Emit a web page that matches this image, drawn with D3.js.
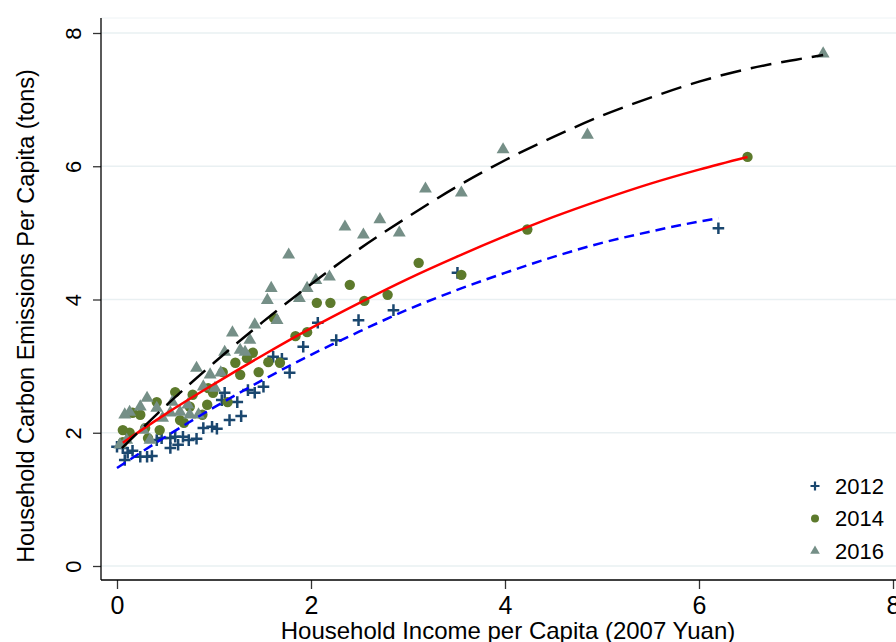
<!DOCTYPE html>
<html>
<head>
<meta charset="utf-8">
<script src="https://cdn.jsdelivr.net/npm/d3@7"></script>
<style>
  body { margin: 0; background: #fff; }
  svg { display: block; }
</style>
</head>
<body>
<svg id="chart" width="896" height="642"></svg>
<script>
// tick values on both axes
var xTicks = [0, 2, 4, 6, 8];
var yTicks = [0, 2, 4, 6, 8];
var years = ['2012', '2014', '2016'];

// scatter points [income, emissions]
var pts2012 = [
    [6.20, 5.07], [3.51, 4.40], [2.85, 3.84], [2.49, 3.69], [2.26, 3.39], [2.07, 3.65],
    [1.92, 3.29], [1.78, 2.90], [1.61, 3.14], [1.70, 3.11], [1.51, 2.69], [1.42, 2.60],
    [1.35, 2.64], [1.28, 2.25], [1.24, 2.46], [1.16, 2.19], [1.11, 2.60], [1.08, 2.49],
    [1.03, 2.06], [0.98, 2.09], [0.89, 2.07], [0.82, 1.91], [0.74, 1.89], [0.68, 1.94],
    [0.63, 1.82], [0.60, 1.94], [0.55, 1.92], [0.55, 1.77], [0.46, 1.92], [0.41, 1.89],
    [0.36, 1.65], [0.31, 1.64], [0.24, 1.64], [0.16, 1.73], [0.11, 1.70], [0.06, 1.77],
    [0.00, 1.79], [0.08, 1.59]
];
var pts2014 = [
    [6.50, 6.14], [4.23, 5.05], [3.55, 4.37], [3.11, 4.55], [2.79, 4.07], [2.55, 3.98],
    [2.40, 4.22], [2.20, 3.95], [2.06, 3.95], [1.96, 3.51], [1.84, 3.45], [1.62, 3.72],
    [1.68, 3.05], [1.56, 3.06], [1.46, 2.91], [1.40, 3.20], [1.34, 3.12], [1.22, 3.05],
    [1.27, 2.87], [1.09, 2.91], [1.14, 2.46], [0.99, 2.60], [0.94, 2.67], [0.88, 2.27],
    [0.78, 2.57], [0.75, 2.39], [0.69, 2.15], [0.60, 2.61], [0.44, 2.04], [0.41, 2.46],
    [0.24, 2.27], [0.16, 2.30], [0.13, 2.00], [0.06, 2.04], [0.06, 1.86], [0.32, 1.92],
    [0.65, 2.19], [0.93, 2.42], [0.29, 2.07]
];
var pts2016 = [
    [7.28, 7.69], [4.85, 6.47], [3.98, 6.25], [3.18, 5.66], [3.55, 5.60], [2.35, 5.09],
    [2.54, 4.97], [2.71, 5.20], [2.91, 5.00], [1.77, 4.67], [2.19, 4.34], [2.05, 4.29],
    [1.96, 4.17], [1.88, 4.02], [1.59, 4.17], [1.55, 3.99], [1.65, 3.69], [1.42, 3.62],
    [1.37, 3.39], [1.19, 3.50], [1.27, 3.24], [1.32, 3.21], [1.11, 3.21], [0.82, 2.97],
    [0.96, 2.87], [1.07, 2.90], [1.01, 2.67], [0.89, 2.69], [0.73, 2.42], [0.65, 2.31],
    [0.75, 2.27], [0.57, 2.46], [0.47, 2.22], [0.41, 2.37], [0.31, 2.52], [0.24, 2.39],
    [0.13, 2.31], [0.08, 2.27], [0.55, 2.30], [0.84, 2.27], [0.27, 2.04], [0.34, 1.89],
    [0.10, 1.89], [0.03, 1.82]
];

// fitted curves, sampled along each line in the picture
var fit2012 = [
    [0.0, 1.47], [0.5, 1.94], [1.0, 2.38], [1.5, 2.79], [2.0, 3.17], [2.5, 3.52], [3.0, 3.85],
    [3.5, 4.14], [4.0, 4.40], [4.5, 4.64], [5.0, 4.85], [5.5, 5.02], [6.0, 5.17], [6.2, 5.22]
];
var fit2014 = [
    [0.06, 1.85], [0.5, 2.28], [1.0, 2.73], [1.5, 3.16], [2.0, 3.57], [2.5, 3.95], [3.0, 4.31],
    [3.5, 4.64], [4.0, 4.95], [4.5, 5.24], [5.0, 5.50], [5.5, 5.74], [6.0, 5.95], [6.5, 6.14]
];
var fit2016 = [
    [0.05, 1.77], [0.5, 2.40], [1.0, 3.05], [1.5, 3.66], [2.0, 4.23], [2.5, 4.76], [3.0, 5.24],
    [3.5, 5.69], [4.0, 6.09], [4.5, 6.44], [5.0, 6.76], [5.5, 7.03], [6.0, 7.27], [6.5, 7.46],
    [7.0, 7.60], [7.28, 7.67]
];

var colors = {
    plus: '#1a476f',
    dot: '#5d7a2c',
    tri: '#758f87',
    grid: '#e9f0f2'
};

var svg = d3.select('#chart');
var x = d3.scaleLinear().domain([0, 8]).range([117, 893]);
var y = d3.scaleLinear().domain([0, 8]).range([566, 33]);
var axisX = 101, axisY = 580;

// grid lines
svg.append('g').attr('id', 'grid')
    .selectAll('line').data(yTicks).enter().append('line')
    .attr('x1', axisX).attr('x2', 896)
    .attr('y1', function (d) { return y(d); })
    .attr('y2', function (d) { return y(d); })
    .attr('stroke', colors.grid)
    .attr('stroke-width', 1.5);
svg.append('line')
    .attr('x1', axisX).attr('x2', 896).attr('y1', 18).attr('y2', 18)
    .attr('stroke', '#eef3f5').attr('stroke-width', 1);

// y axis, labels are turned on their side
var gy = svg.append('g')
    .attr('transform', 'translate(' + axisX + ',0)')
    .call(d3.axisLeft(y).tickValues(yTicks).tickSize(8).tickSizeOuter(0));
gy.select('.domain').remove();
gy.append('line').attr('x1', 0).attr('x2', 0).attr('y1', 18).attr('y2', axisY)
    .attr('stroke', '#000').attr('stroke-width', 1.3);
gy.selectAll('.tick line').attr('stroke', '#333').attr('stroke-width', 1.3);
gy.selectAll('.tick text')
    .attr('x', 0).attr('dy', 0)
    .attr('transform', 'translate(-28,0) rotate(-90)')
    .attr('text-anchor', 'middle')
    .attr('dominant-baseline', 'central')
    .attr('font-family', 'Liberation Sans, Arial, sans-serif')
    .attr('font-size', 22)
    .attr('fill', '#000');

// x axis
var gx = svg.append('g')
    .attr('transform', 'translate(0,' + axisY + ')')
    .call(d3.axisBottom(x).tickValues(xTicks).tickSize(9).tickSizeOuter(0));
gx.select('.domain').remove();
gx.append('line').attr('x1', axisX).attr('x2', 896).attr('y1', 0).attr('y2', 0)
    .attr('stroke', '#000').attr('stroke-width', 1.3);
gx.selectAll('.tick line').attr('stroke', '#333').attr('stroke-width', 1.3);
gx.selectAll('.tick text')
    .attr('y', 25).attr('dy', 0)
    .attr('dominant-baseline', 'central')
    .attr('font-family', 'Liberation Sans Narrow, Arial Narrow, sans-serif')
    .attr('font-size', 25)
    .attr('fill', '#000');

// axis titles
svg.append('text')
    .attr('x', 508).attr('y', 630)
    .attr('text-anchor', 'middle')
    .attr('dominant-baseline', 'central')
    .attr('font-family', 'Liberation Sans Narrow, Arial Narrow, sans-serif')
    .attr('font-size', 24)
    .text('Household Income per Capita (2007 Yuan)');
svg.append('text')
    .attr('transform', 'translate(26,316) rotate(-90)')
    .attr('text-anchor', 'middle')
    .attr('dominant-baseline', 'central')
    .attr('font-family', 'Liberation Sans, Arial, sans-serif')
    .attr('font-size', 23.5)
    .text('Household Carbon Emissions Per Capita (tons)');

// markers
function plusPath(s) {
    return 'M' + (-s) + ',0H' + s + 'M0,' + (-s) + 'V' + s;
}
var triangle = d3.symbol().type(d3.symbolTriangle);

var marks = svg.append('g').attr('id', 'marks');
marks.selectAll('.p12').data(pts2012).enter().append('path')
    .attr('class', 'p12')
    .attr('d', plusPath(5.8))
    .attr('transform', function (d) { return 'translate(' + x(d[0]) + ',' + y(d[1]) + ')'; })
    .attr('stroke', colors.plus)
    .attr('stroke-width', 2.5)
    .attr('fill', 'none');
marks.selectAll('.p14').data(pts2014).enter().append('circle')
    .attr('class', 'p14')
    .attr('cx', function (d) { return x(d[0]); })
    .attr('cy', function (d) { return y(d[1]); })
    .attr('r', 5.2)
    .attr('fill', colors.dot);
marks.selectAll('.p16').data(pts2016).enter().append('path')
    .attr('class', 'p16')
    .attr('d', triangle.size(72)())
    .attr('transform', function (d) { return 'translate(' + x(d[0]) + ',' + y(d[1]) + ')'; })
    .attr('fill', colors.tri);

// fitted lines go on top of the points
var line = d3.line()
    .x(function (d) { return x(d[0]); })
    .y(function (d) { return y(d[1]); })
    .curve(d3.curveMonotoneX);
var fits = [
    { data: fit2012, color: '#0000ff', dash: '10,6' },
    { data: fit2014, color: '#ff0000', dash: null },
    { data: fit2016, color: '#000000', dash: '21,10' }
];
fits.forEach(function (f) {
    svg.append('path')
        .attr('d', line(f.data))
        .attr('fill', 'none')
        .attr('stroke', f.color)
        .attr('stroke-width', 2.5)
        .attr('stroke-dasharray', f.dash);
});

// legend
var legend = svg.append('g').attr('id', 'legend');
years.forEach(function (yr, i) {
    var cy = 486 + i * 32.5;
    var item = legend.append('g').attr('transform', 'translate(815,' + cy + ')');
    if (i == 0) {
        item.append('path').attr('d', plusPath(4.5))
            .attr('stroke', colors.plus).attr('stroke-width', 2.2).attr('fill', 'none');
    }
    else if (i == 1) {
        item.append('circle').attr('r', 4).attr('fill', colors.dot);
    }
    else {
        item.append('path').attr('d', triangle.size(40)()).attr('fill', colors.tri);
    }
    item.append('text')
        .attr('x', 20)
        .attr('dominant-baseline', 'central')
        .attr('font-family', 'Liberation Sans, Arial, sans-serif')
        .attr('font-size', 22)
        .text(yr);
});
</script>
</body>
</html>
